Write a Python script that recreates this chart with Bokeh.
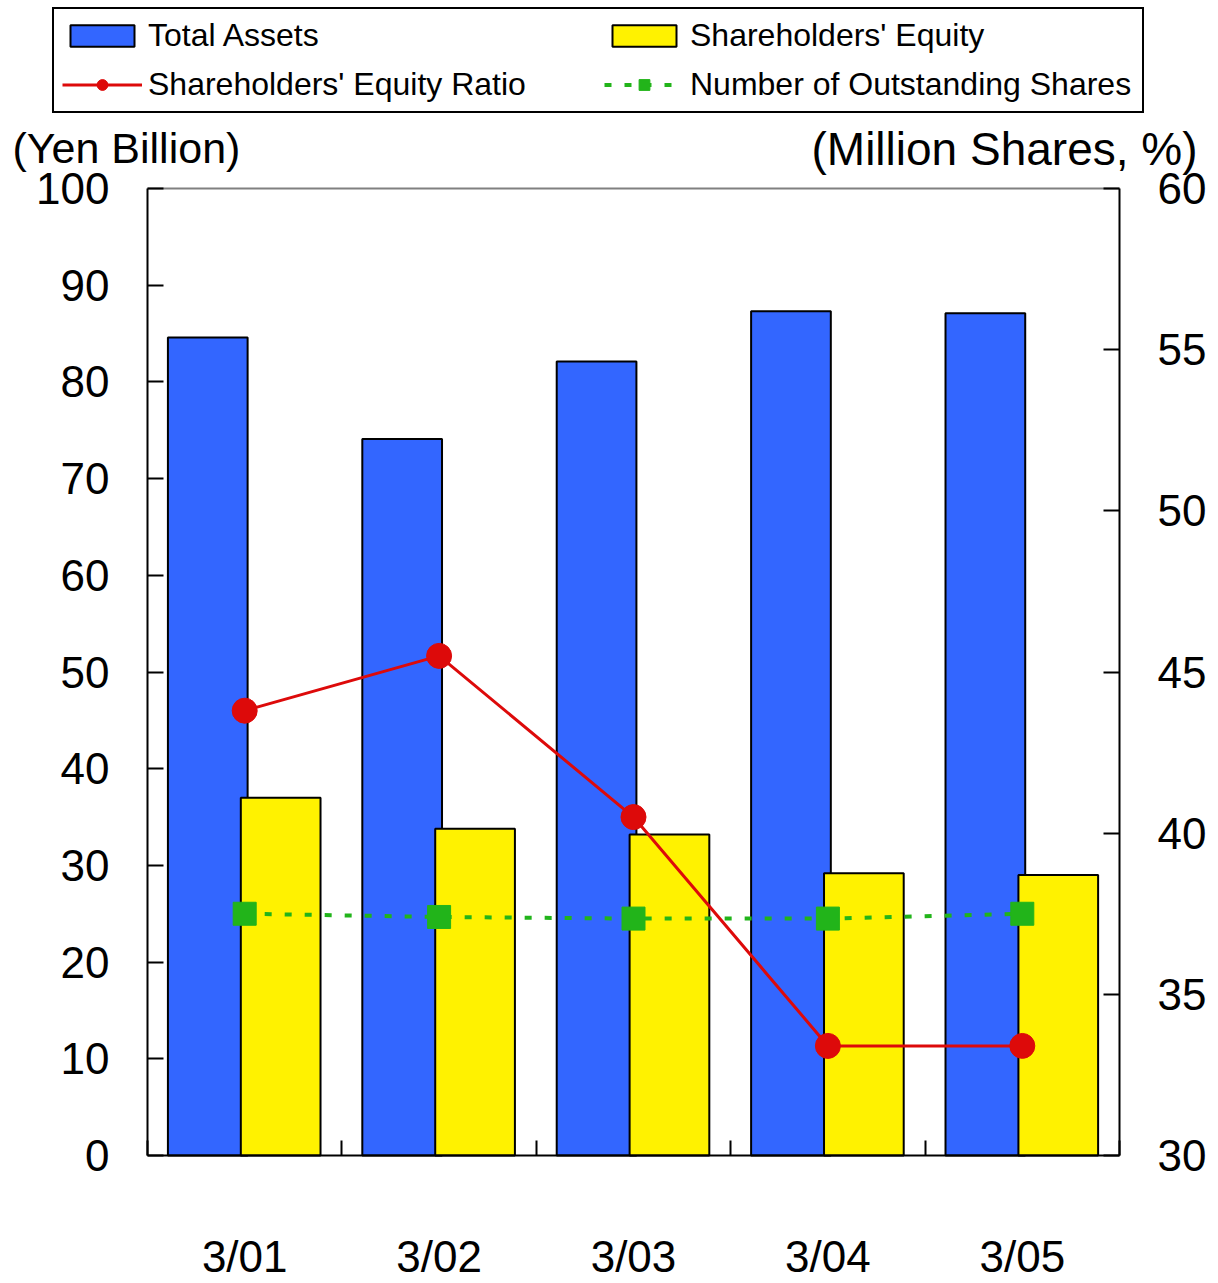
from bokeh.plotting import figure
from bokeh.models import (Range1d, LinearAxis, FixedTicker, SingleIntervalTicker,
                          ColumnDataSource, Legend, LegendItem, Label)
from bokeh.transform import dodge
from bokeh.embed import file_html
from bokeh.resources import INLINE

# ---- data ----
periods = ["3/01", "3/02", "3/03", "3/04", "3/05"]
total_assets = [84.6, 74.1, 82.1, 87.3, 87.1]          # Yen billion
shareholders_equity = [37.0, 33.8, 33.2, 29.2, 29.0]   # Yen billion
equity_ratio = [43.8, 45.5, 40.5, 33.4, 33.4]           # %
outstanding_shares = [37.5, 37.4, 37.35, 37.35, 37.5]   # million shares
left_title = "(Yen Billion)"
right_title = "(Million Shares, %)"
left_limits = (0, 100)
right_limits = (30, 60)

FONT = "Liberation Sans"
BLUE = "#3366FF"
YELLOW = "#FFF200"
RED = "#DD0A0A"
GREEN = "#22B41A"

# ---- layout (canvas pixels) ----
W, H = 1218, 1283
FL, FR, FT, FB = 147, 1119, 188, 1155   # plotting-area box

n = len(periods)
kx = n / (FR - FL)
x_rng = Range1d(-FL * kx, n + (W - FR) * kx)
ky = (left_limits[1] - left_limits[0]) / (FB - FT)
y_rng = Range1d(left_limits[0] - (H - FB) * ky, left_limits[1] + FT * ky)
kr = (right_limits[1] - right_limits[0]) / (FB - FT)
r_rng = Range1d(right_limits[0] - (H - FB) * kr, right_limits[1] + FT * kr)

pos = [i + 0.5 for i in range(n)]
src = ColumnDataSource(dict(x=pos, assets=total_assets, equity=shareholders_equity,
                            ratio=equity_ratio, shares=outstanding_shares))

p = figure(width=W, height=H, output_backend="svg", toolbar_location=None,
           x_range=x_rng, y_range=y_rng, min_border=0,
           x_axis_type=None, y_axis_type=None)
p.extra_y_ranges = {"right": r_rng}
p.xgrid.visible = False
p.ygrid.visible = False
p.outline_line_color = None
p.background_fill_color = "white"
p.border_fill_color = "white"

# top border of the plotting area
p.segment(x0=[0], y0=[left_limits[1]], x1=[n], y1=[left_limits[1]],
          line_color="#808080", line_width=2)

# ---- axes ----
xaxis = LinearAxis(fixed_location=left_limits[0], bounds=(0, n),
                   ticker=FixedTicker(ticks=pos, minor_ticks=list(range(n + 1))),
                   major_label_overrides={x: lab for x, lab in zip(pos, periods)})
xaxis.major_tick_in = 0
xaxis.major_tick_out = 0
xaxis.minor_tick_in = 15
xaxis.minor_tick_out = 0
xaxis.minor_tick_line_color = "black"
xaxis.minor_tick_line_width = 2
xaxis.axis_line_width = 2
xaxis.major_label_standoff = 76
xaxis.major_label_text_font = FONT
xaxis.major_label_text_font_size = "44px"
xaxis.major_label_text_color = "black"
p.add_layout(xaxis, "below")

yl = LinearAxis(fixed_location=0, bounds=left_limits,
                ticker=SingleIntervalTicker(interval=10))
yr = LinearAxis(fixed_location=n, bounds=right_limits, y_range_name="right",
                ticker=SingleIntervalTicker(interval=5))
for ax in (yl, yr):
    ax.major_tick_in = 16
    ax.major_tick_out = 0
    ax.minor_tick_in = 0
    ax.minor_tick_out = 0
    ax.axis_line_width = 2
    ax.major_tick_line_width = 2
    ax.major_label_standoff = 38
    ax.major_label_text_font = FONT
    ax.major_label_text_font_size = "44px"
    ax.major_label_text_color = "black"
p.add_layout(yl, "left")
p.add_layout(yr, "right")

# ---- marks ----
r_a = p.vbar(x=dodge("x", -0.19), top="assets", width=0.41, source=src,
             fill_color=BLUE, line_color="black", line_width=2)
r_e = p.vbar(x=dodge("x", 0.185), top="equity", width=0.41, source=src,
             fill_color=YELLOW, line_color="black", line_width=2)
r_rl = p.line("x", "ratio", source=src, y_range_name="right",
              line_color=RED, line_width=3)
r_rm = p.scatter("x", "ratio", source=src, y_range_name="right",
                 marker="circle", size=25, fill_color=RED, line_color=RED)
r_sl = p.line("x", "shares", source=src, y_range_name="right",
              line_color=GREEN, line_width=4, line_dash="7 13")
r_sm = p.scatter("x", "shares", source=src, y_range_name="right",
                 marker="square", size=23, fill_color=GREEN, line_color=GREEN)

# ---- legend ----
legend = Legend(items=[
    LegendItem(label="Total Assets", renderers=[r_a]),
    LegendItem(label="Shareholders' Equity Ratio", renderers=[r_rl, r_rm]),
    LegendItem(label="Shareholders' Equity", renderers=[r_e]),
    LegendItem(label="Number of Outstanding Shares", renderers=[r_sl, r_sm]),
], ncols=2, location=(52, H - 113))
legend.label_text_font = FONT
legend.label_text_font_size = "32px"
legend.label_text_color = "black"
legend.glyph_width = 80
legend.glyph_height = 27
legend.label_height = 36
legend.label_width = 444
legend.label_standoff = 6
legend.spacing = 12
legend.padding = 8
legend.margin = 0
legend.border_line_color = "black"
legend.border_line_alpha = 1
legend.border_line_width = 2
legend.background_fill_alpha = 1
p.add_layout(legend, "center")

# ---- axis titles ----
p.add_layout(Label(x=12, y=H - 147, x_units="screen", y_units="screen",
                   text=left_title, text_align="left", text_baseline="alphabetic",
                   text_font=FONT, text_font_size="43px", text_color="black"))
p.add_layout(Label(x=1197, y=H - 148, x_units="screen", y_units="screen",
                   text=right_title, text_align="right", text_baseline="alphabetic",
                   text_font=FONT, text_font_size="46px", text_color="black"))

open("out.html", "w").write(file_html(p, INLINE))
